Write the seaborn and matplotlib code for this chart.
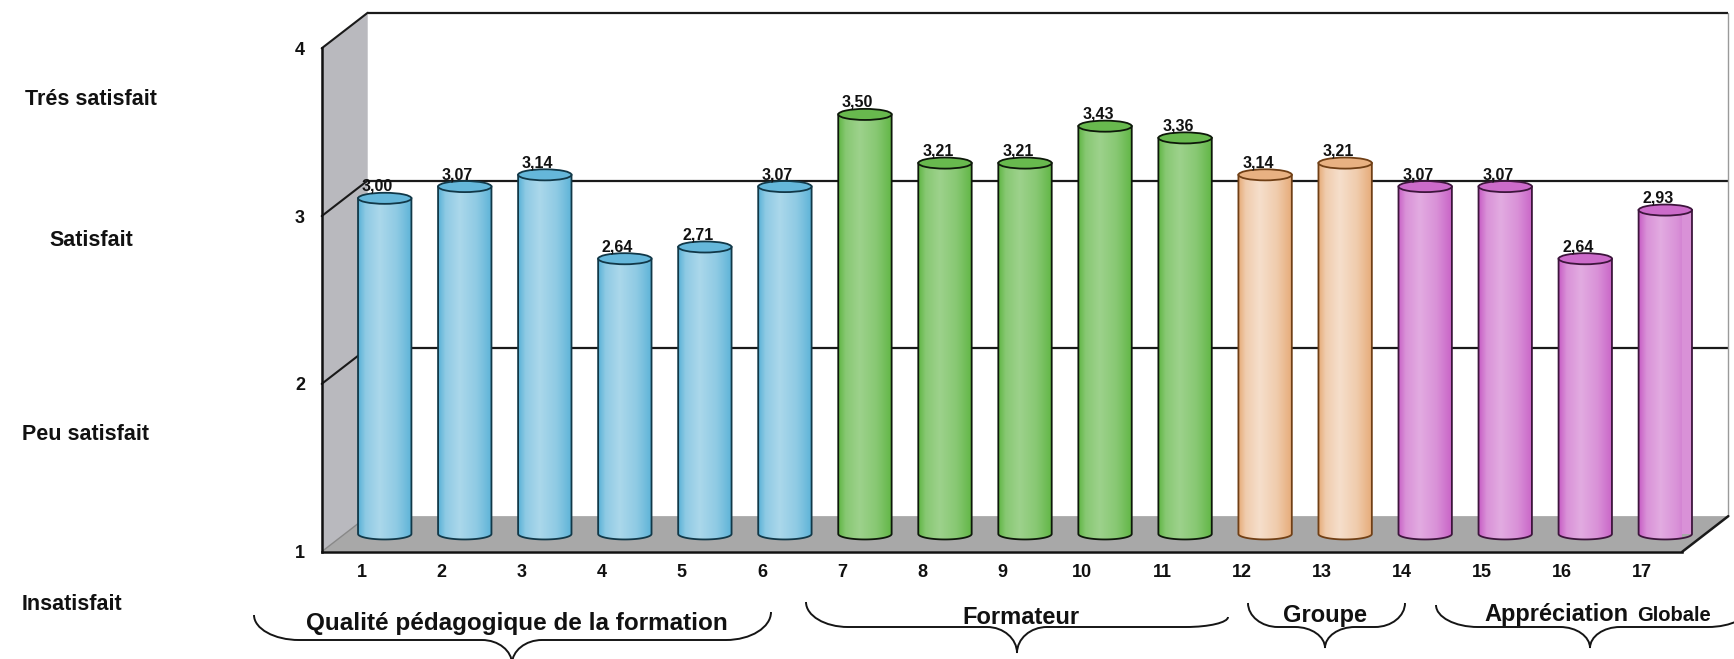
import colorsys
import numpy as np
import pandas as pd
import matplotlib
matplotlib.use("Agg")
import matplotlib.pyplot as plt
import seaborn as sns
from matplotlib.patches import Polygon, Ellipse, PathPatch, Rectangle
from matplotlib.path import Path
from matplotlib.colors import to_rgb

# ---------------------------------------------------------------- data
items = [str(i) for i in range(1, 18)]
scores = [3.00, 3.07, 3.14, 2.64, 2.71, 3.07,
          3.50, 3.21, 3.21, 3.43, 3.36,
          3.14, 3.21,
          3.07, 3.07, 2.64, 2.93]
groups = (["Qualité pédagogique de la formation"] * 6
          + ["Formateur"] * 5
          + ["Groupe"] * 2
          + ["Appréciation Globale"] * 4)
group_names = ["Qualité pédagogique de la formation", "Formateur",
               "Groupe", "Appréciation Globale"]
group_colors = ["#80d0f2", "#80d664", "#fbcba2", "#e585e3"]
level_values = [1, 2, 3, 4]
level_names = ["Insatisfait", "Peu satisfait", "Satisfait", "Trés satisfait"]

# ---------------------------------------------------------------- style
sns.set_style("white")
plt.rcParams["font.family"] = ["Liberation Sans", "DejaVu Sans"]
plt.rcParams["font.weight"] = "bold"

W, H = 1734, 659
fig = plt.figure(figsize=(W / 100, H / 100), dpi=100)
fig.patch.set_facecolor("white")
ax = fig.add_axes([321.7 / W, 1 - 551.7 / H, 1360.6 / W, 503.4 / H])
ax.set_facecolor("none")

# depth of the 3-D box in data units (back plane) and half of it (bars)
BX, BY = 0.575, 0.212
MX, MY = BX / 2, BY / 2
EB = 0.033          # half height of the cylinder ellipses

df = pd.DataFrame({"item": items, "score": scores, "group": groups})
sns.barplot(data=df, x="item", y="score", hue="group", order=items,
            hue_order=group_names, palette=dict(zip(group_names, group_colors)),
            dodge=False, width=0.667, legend=False, ax=ax)

bars = [p for p in ax.patches if isinstance(p, Rectangle)
        and np.isfinite(p.get_height()) and p.get_height() > 0]

x_lo, x_hi = -0.5, len(items) - 0.5
y_lo, y_hi = level_values[0], level_values[-1]

# ---------------------------------------------------------------- 3-D box
back = Polygon([(x_lo + BX, y_lo + BY), (x_hi + BX, y_lo + BY),
                (x_hi + BX, y_hi + BY), (x_lo + BX, y_hi + BY)],
               closed=True, fc="white", ec="none", zorder=0.2, clip_on=False)
side = Polygon([(x_lo, y_lo), (x_lo, y_hi), (x_lo + BX, y_hi + BY),
                (x_lo + BX, y_lo + BY)],
               closed=True, fc="#b9b9be", ec="none", zorder=0.3, clip_on=False)
floor = Polygon([(x_lo, y_lo), (x_hi, y_lo), (x_hi + BX, y_lo + BY),
                 (x_lo + BX, y_lo + BY)],
                closed=True, fc="#a8a8a8", ec="none", zorder=0.4, clip_on=False)
for poly in (back, side, floor):
    ax.add_patch(poly)

for lv in level_values[1:]:
    ax.plot([x_lo + BX, x_hi + BX], [lv + BY, lv + BY], color="#1a1a1a",
            lw=1.6, zorder=0.25, clip_on=False, solid_capstyle="butt")
    ax.plot([x_lo, x_lo + BX], [lv, lv + BY], color="#1a1a1a",
            lw=1.5, zorder=0.35, clip_on=False)
ax.plot([x_hi + BX, x_hi + BX], [y_lo + BY, y_hi + BY], color="#9a9a9a",
        lw=1.0, zorder=0.25, clip_on=False)
ax.plot([x_lo, x_lo + BX], [y_lo, y_lo + BY], color="#888888",
        lw=1.0, zorder=0.45, clip_on=False)
ax.plot([x_hi, x_hi + BX], [y_lo, y_lo + BY], color="#1a1a1a",
        lw=1.8, zorder=0.45, clip_on=False)


def lighten(rgb, dl, ds=0.0):
    h, l, s = colorsys.rgb_to_hls(*rgb)
    return np.array(colorsys.hls_to_rgb(h, np.clip(l + dl, 0, 1), np.clip(s + ds, 0, 1)))


# ---------------------------------------------------------------- cylinders
t = np.linspace(0, 1, 96)
shade = np.interp(t, [0, 0.14, 0.4, 0.72, 1], [-0.13, 0.0, 0.07, 0.0, -0.12])
theta = np.linspace(np.pi, 2 * np.pi, 60)

for p in bars:
    w = p.get_width()
    v = p.get_height()
    xc = p.get_x() + w / 2 + MX
    base = np.array(to_rgb(p.get_facecolor()))
    edge = lighten(base, -0.55)
    top_col = lighten(base, -0.1)
    y0, y1 = y_lo + MY, v + MY

    p.set_bounds(xc - w / 2, y0, w, v - y_lo)
    p.set_edgecolor("none")
    p.set_zorder(3)
    p.set_clip_on(False)

    arc = np.column_stack([xc + w / 2 * np.cos(theta), y0 + EB * np.sin(theta)])
    body = np.vstack([[xc - w / 2, y1], arc, [xc + w / 2, y1]])
    outline = Polygon(body, closed=True, fc="none", ec=edge, lw=1.3,
                      zorder=3.2, clip_on=False)
    ax.add_patch(outline)

    grad = np.array([lighten(base, d) for d in shade])
    img = ax.imshow(grad[None, :, :], extent=[xc - w / 2, xc + w / 2, y0 - EB, y1],
                    aspect="auto", zorder=3.1, interpolation="bilinear")
    img.set_clip_path(outline)

    ax.add_patch(Ellipse((xc, y1), w, 2 * EB, fc=top_col, ec=edge, lw=1.3,
                         zorder=3.3, clip_on=False))
    ax.text(xc - 0.09, y1 + EB + 0.012, f"{v:.2f}".replace(".", ","),
            ha="center", va="baseline", fontsize=11.5, fontweight="bold",
            color="#111111", zorder=5)

# ---------------------------------------------------------------- axes
ax.set_xlim(x_lo, x_hi)
ax.set_ylim(y_lo, y_hi)
ax.set_xlabel("")
ax.set_ylabel("")
for s in ("top", "right"):
    ax.spines[s].set_visible(False)
for s in ("left", "bottom"):
    ax.spines[s].set_color("#111111")
    ax.spines[s].set_linewidth(1.8)

ax.set_xticks(range(len(items)))
ax.set_xticklabels(items, fontsize=13, fontweight="bold")
ax.set_xticks(np.arange(x_lo, x_hi + 0.01, 1), minor=True)
ax.tick_params(axis="x", which="major", length=0, pad=9, colors="#111111")
ax.tick_params(axis="x", which="minor", length=5, width=1.2, direction="out",
               color="#111111")
ax.set_yticks(level_values)
ax.set_yticklabels([str(v) for v in level_values], fontsize=13, fontweight="bold")
ax.tick_params(axis="y", length=5, width=1.2, pad=7, colors="#111111",
               direction="out")
ax.grid(False)

# satisfaction levels written at the far left
level_pos = [(72, 605), (86, 435), (91, 240), (91, 99.5)]
for name, (px, py) in zip(level_names, level_pos):
    fig.text(px / W, 1 - py / H, name, ha="center", va="center",
             fontsize=15.5, fontweight="bold", color="#111111")


# ---------------------------------------------------------------- group braces
def brace(xl, xr, tip, yl, yr, ybase, ytip, r=42, rt=30):
    pts = [(xl, yl),
           (xl, yl + 0.55 * (ybase - yl)), (xl + 0.45 * r, ybase), (xl + r, ybase),
           (tip - rt, ybase),
           (tip - 0.45 * rt, ybase), (tip, ybase + 0.45 * (ytip - ybase)), (tip, ytip),
           (tip, ybase + 0.45 * (ytip - ybase)), (tip + 0.45 * rt, ybase), (tip + rt, ybase),
           (xr - r, ybase),
           (xr - 0.45 * r, ybase), (xr, yr + 0.55 * (ybase - yr)), (xr, yr)]
    codes = ([Path.MOVETO] + [Path.CURVE4] * 3 + [Path.LINETO]
             + [Path.CURVE4] * 6 + [Path.LINETO] + [Path.CURVE4] * 3)
    verts = [(x / W, 1 - y / H) for x, y in pts]
    fig.add_artist(PathPatch(Path(verts, codes), fill=False, ec="#151515",
                             lw=1.4, transform=fig.transFigure))


# (left, right, tip, left top, right top, base line, tip depth, end radius)
brace_px = [(254, 771, 512, 615, 612, 640, 664, 45),
            (806, 1228, 1017, 602, 617, 627, 653, 42),
            (1248, 1405, 1325, 603, 603, 627, 648, 30),
            (1436, 1750, 1590, 605, 606, 627, 648, 42)]
for xl, xr, tip, yl, yr, yb, yt, r in brace_px:
    brace(xl, xr, tip, yl, yr, yb, yt, r=r)

# group titles: (text, font size, centre x, baseline y)
title_parts = [[("Qualité pédagogique de la formation", 17.5, 517, 630)],
               [("Formateur", 17, 1021, 624)],
               [("Groupe", 17, 1325, 622)],
               [("Appréciation", 17, 1556, 621), ("Globale", 14.5, 1674, 621)]]
for parts in title_parts:
    for text, size, px, py in parts:
        fig.text(px / W, 1 - py / H, text, ha="center", va="baseline",
                 fontsize=size, fontweight="bold", color="#111111")

fig.savefig("out.png", dpi=100, facecolor="white")
